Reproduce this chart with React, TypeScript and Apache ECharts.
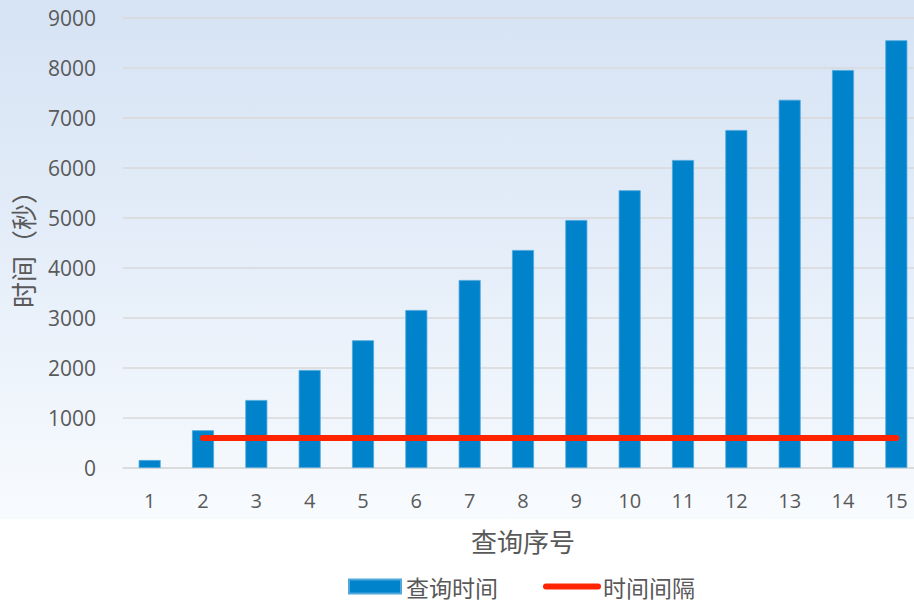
import React, { useEffect, useRef } from "react";
import * as echarts from "echarts";

// Query index (x categories)
const categories = ["1", "2", "3", "4", "5", "6", "7", "8", "9", "10", "11", "12", "13", "14", "15"];
// Query time per query, seconds
const queryTime = [160, 755, 1360, 1960, 2555, 3160, 3760, 4360, 4960, 5555, 6160, 6760, 7365, 7960, 8555];
// Time interval, seconds (starts from the second query)
const timeInterval = [null, 600, 600, 600, 600, 600, 600, 600, 600, 600, 600, 600, 600, 600, 600];
// Y axis range
const yMin = 0;
const yMax = 9000;
const yStep = 1000;

const FONT = '"Open Sans", "Noto Sans CJK SC", sans-serif';
const CJK_FONT = '"Noto Sans CJK SC", sans-serif';
const GRAY = "#595959";

export default function App() {
  const ref = useRef<HTMLDivElement>(null);

  useEffect(() => {
    if (!ref.current) return;
    const chart = echarts.init(ref.current, undefined, { renderer: "svg" });
    chart.setOption({
      animation: false,
      backgroundColor: "#ffffff",
      textStyle: { fontFamily: FONT },
      graphic: [
        {
          type: "rect",
          silent: true,
          z: -10,
          shape: { x: 0, y: 0, width: 914, height: 519 },
          style: {
            fill: new echarts.graphic.LinearGradient(0, 0, 0, 1, [
              { offset: 0, color: "#d6e3f4" },
              { offset: 0.5, color: "#e5eef9" },
              { offset: 1, color: "#f8fbfe" },
            ]),
          },
        },
      ],
      grid: {
        left: 123,
        top: 18,
        width: 800,
        height: 450,
        containLabel: false,
        outerBoundsMode: "none",
      },
      legend: {
        left: 348,
        top: 575,
        padding: 0,
        itemWidth: 52,
        itemHeight: 14,
        itemGap: 45,
        textStyle: { fontSize: 23, color: GRAY, fontFamily: CJK_FONT },
        data: [
          { name: "查询时间", icon: "rect" },
          {
            name: "时间间隔",
            itemStyle: { color: "transparent", borderWidth: 0, opacity: 0 },
            lineStyle: { color: "#ff2400", width: 6, cap: "round" },
          },
        ],
      },
      xAxis: {
        type: "category",
        data: categories,
        name: "查询序号",
        nameLocation: "middle",
        nameGap: 59,
        nameTextStyle: { fontSize: 26, color: GRAY, fontFamily: CJK_FONT },
        axisLine: { show: true, lineStyle: { color: "#d9d9d9", width: 1.5 } },
        axisTick: { show: false },
        axisLabel: { fontSize: 20, color: GRAY, margin: 22 },
      },
      yAxis: {
        type: "value",
        min: yMin,
        max: yMax,
        interval: yStep,
        name: "时间（秒）",
        nameLocation: "middle",
        nameRotate: 90,
        nameGap: 88,
        nameTextStyle: {
          fontSize: 26,
          color: GRAY,
          fontFamily: CJK_FONT,
        },
        axisLine: { show: false },
        axisTick: { show: false },
        axisLabel: {
          fontSize: 21,
          color: GRAY,
          margin: 27,
          formatter: (v: number) => String(v),
        },
        splitLine: { lineStyle: { color: "#d9d9d9", width: 1.5 } },
      },
      series: [
        {
          name: "查询时间",
          type: "bar",
          data: queryTime,
          barWidth: 22,
          itemStyle: { color: "#0083ca", borderColor: "#4ea8dc", borderWidth: 0.8 },
        },
        {
          name: "时间间隔",
          type: "line",
          data: timeInterval,
          symbol: "none",
          showSymbol: false,
          lineStyle: { color: "#ff2400", width: 6, cap: "round" },
          itemStyle: { color: "#ff2400" },
        },
      ],
    });
    return () => chart.dispose();
  }, []);

  return (
    <div
      ref={ref}
      style={{ position: "fixed", left: 0, top: 0, width: 914, height: 602 }}
    />
  );
}
